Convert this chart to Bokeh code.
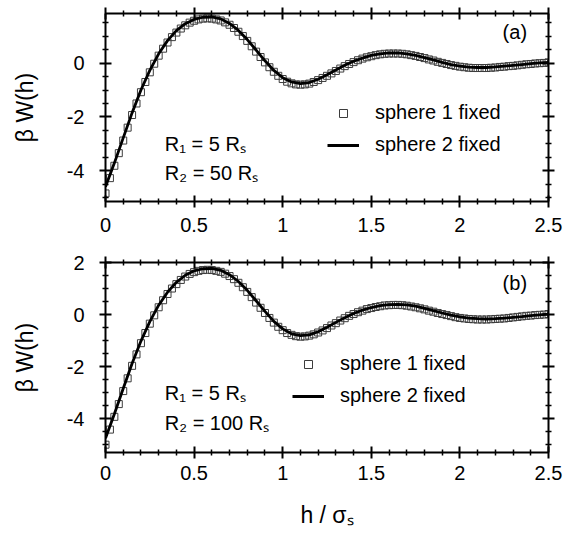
from bokeh.plotting import figure
from bokeh.layouts import column
from bokeh.models import LinearAxis, FixedTicker, Range1d, Label, Legend, LegendItem
from bokeh.embed import file_html
from bokeh.resources import INLINE

# ---------------- data ----------------
H_LINE = [0.0, 0.05, 0.1, 0.15, 0.2, 0.25, 0.3, 0.35, 0.4, 0.45,
          0.5, 0.55, 0.6, 0.65, 0.7, 0.75, 0.8, 0.85, 0.9, 0.95,
          1.0, 1.05, 1.1, 1.15, 1.2, 1.25, 1.3, 1.35, 1.4, 1.45,
          1.5, 1.55, 1.6, 1.65, 1.7, 1.75, 1.8, 1.85, 1.9, 1.95,
          2.0, 2.05, 2.1, 2.15, 2.2, 2.25, 2.3, 2.35, 2.4, 2.45, 2.5]

H_SQ = [0.0, 0.025, 0.05, 0.075, 0.1, 0.125, 0.15, 0.175, 0.2, 0.225,
        0.25, 0.275, 0.3, 0.325, 0.35, 0.375, 0.4, 0.425, 0.45, 0.475,
        0.5, 0.525, 0.55, 0.575, 0.6, 0.625, 0.65, 0.675, 0.7, 0.725,
        0.75, 0.775, 0.8, 0.825, 0.85, 0.875, 0.9, 0.925, 0.95, 0.975,
        1.0, 1.025, 1.05, 1.075, 1.1, 1.125, 1.15, 1.175, 1.2, 1.225,
        1.25, 1.275, 1.3, 1.325, 1.35, 1.375, 1.4, 1.425, 1.45, 1.475,
        1.5, 1.525, 1.55, 1.575, 1.6, 1.625, 1.65, 1.675, 1.7, 1.725,
        1.75, 1.775, 1.8, 1.825, 1.85, 1.875, 1.9, 1.925, 1.95, 1.975,
        2.0, 2.025, 2.05, 2.075, 2.1, 2.125, 2.15, 2.175, 2.2, 2.225,
        2.25, 2.275, 2.3, 2.325, 2.35, 2.375, 2.4, 2.425, 2.45, 2.475, 2.5]

# panel (a): R1 = 5 Rs, R2 = 50 Rs
LINE_A = [-4.60, -3.72, -2.78, -1.85, -1.00, -0.27, 0.35, 0.84, 1.21, 1.47,
          1.63, 1.71, 1.72, 1.65, 1.48, 1.22, 0.88, 0.49, 0.09, -0.27,
          -0.54, -0.70, -0.76, -0.72, -0.60, -0.43, -0.25, -0.08, 0.07, 0.19,
          0.29, 0.35, 0.38, 0.38, 0.35, 0.29, 0.21, 0.12, 0.03, -0.05,
          -0.11, -0.15, -0.16, -0.16, -0.14, -0.11, -0.08, -0.05, -0.02, 0.01, 0.03]

SQ_A = [-4.85, -4.28, -3.82, -3.35, -2.88, -2.40, -1.93, -1.50, -1.08, -0.70,
        -0.34, -0.02, 0.28, 0.54, 0.77, 0.97, 1.14, 1.29, 1.41, 1.51,
        1.58, 1.63, 1.66, 1.67, 1.66, 1.63, 1.59, 1.52, 1.43, 1.31,
        1.17, 1.01, 0.83, 0.63, 0.43, 0.23, 0.03, -0.15, -0.32, -0.47,
        -0.59, -0.69, -0.75, -0.79, -0.80, -0.79, -0.76, -0.70, -0.63, -0.55,
        -0.47, -0.38, -0.29, -0.20, -0.11, -0.03, 0.04, 0.11, 0.17, 0.22,
        0.26, 0.30, 0.33, 0.35, 0.36, 0.36, 0.36, 0.35, 0.33, 0.30,
        0.27, 0.23, 0.19, 0.14, 0.10, 0.05, 0.01, -0.03, -0.07, -0.10,
        -0.13, -0.15, -0.17, -0.18, -0.18, -0.18, -0.18, -0.17, -0.16, -0.14,
        -0.13, -0.11, -0.10, -0.08, -0.06, -0.04, -0.03, -0.01, 0.00, 0.01, 0.03]

# panel (b): R1 = 5 Rs, R2 = 100 Rs
LINE_B = [-4.75, -3.82, -2.84, -1.88, -1.02, -0.27, 0.36, 0.86, 1.24, 1.51,
          1.68, 1.76, 1.77, 1.70, 1.53, 1.27, 0.93, 0.53, 0.12, -0.26,
          -0.55, -0.74, -0.81, -0.78, -0.66, -0.49, -0.30, -0.12, 0.04, 0.17,
          0.27, 0.34, 0.38, 0.39, 0.37, 0.32, 0.24, 0.15, 0.06, -0.02,
          -0.09, -0.14, -0.16, -0.17, -0.16, -0.14, -0.11, -0.08, -0.04, -0.01, 0.02]

SQ_B = [-5.00, -4.42, -3.93, -3.44, -2.94, -2.45, -1.97, -1.53, -1.10, -0.71,
        -0.35, -0.03, 0.28, 0.55, 0.79, 1.00, 1.17, 1.33, 1.46, 1.56,
        1.63, 1.68, 1.71, 1.72, 1.71, 1.68, 1.64, 1.57, 1.48, 1.36,
        1.22, 1.05, 0.87, 0.67, 0.46, 0.26, 0.06, -0.13, -0.31, -0.47,
        -0.60, -0.71, -0.78, -0.83, -0.85, -0.84, -0.81, -0.76, -0.69, -0.61,
        -0.52, -0.42, -0.33, -0.23, -0.14, -0.05, 0.02, 0.09, 0.15, 0.21,
        0.25, 0.29, 0.32, 0.35, 0.36, 0.37, 0.37, 0.36, 0.34, 0.31,
        0.28, 0.24, 0.20, 0.15, 0.11, 0.06, 0.02, -0.02, -0.06, -0.10,
        -0.13, -0.15, -0.17, -0.18, -0.19, -0.19, -0.19, -0.18, -0.17, -0.16,
        -0.15, -0.13, -0.11, -0.09, -0.07, -0.05, -0.04, -0.02, -0.01, 0.00, 0.02]

X_TICKS = [0, 0.5, 1, 1.5, 2, 2.5]
X_TICK_LABELS = ["0", "0.5", "1", "1.5", "2", "2.5"]
X_MINOR = [0.1, 0.2, 0.3, 0.4, 0.6, 0.7, 0.8, 0.9, 1.1, 1.2, 1.3, 1.4,
           1.6, 1.7, 1.8, 1.9, 2.1, 2.2, 2.3, 2.4]
Y_TICKS = [-4, -2, 0, 2]
Y_TICK_LABELS = ["-4", "-2", "0", "2"]
Y_MINOR = [-5.0, -4.5, -3.5, -3.0, -2.5, -1.5, -1.0, -0.5, 0.5, 1.0, 1.5]

LEGEND_LABELS = ["sphere 1 fixed", "sphere 2 fixed"]
Y_LABEL = "β W(h)"
X_LABEL = "h / σₛ"

FONT = "Liberation Sans"


def style_axis(ax, show_labels, label_standoff):
    ax.axis_line_width = 2
    ax.axis_line_color = "black"
    ax.major_tick_line_width = 2
    ax.minor_tick_line_width = 1.5
    ax.major_tick_in = 6
    ax.major_tick_out = 6
    ax.minor_tick_in = 3
    ax.minor_tick_out = 3
    ax.major_label_text_font = FONT
    ax.major_label_text_color = "black"
    ax.axis_label_text_font = FONT
    ax.axis_label_text_font_style = "normal"
    ax.axis_label_text_font_size = "23px"
    ax.axis_label_text_color = "black"
    if show_labels:
        ax.major_label_text_font_size = "20px"
        ax.major_label_standoff = label_standoff
    else:
        ax.major_label_text_font_size = "0px"
        ax.major_label_standoff = 0
        ax.major_label_text_alpha = 0


def make_panel(line_y, sq_y, y_lo, y_hi, height, b_top, b_bottom, x_standoff,
               tag, tag_xy, r_texts, r_xy, legend_x, xlabel):
    p = figure(width=571, height=height, output_backend="svg", toolbar_location=None,
               x_range=Range1d(0, 2.5), y_range=Range1d(y_lo, y_hi),
               min_border_left=105, min_border_right=23,
               min_border_top=b_top, min_border_bottom=b_bottom)
    p.xgrid.visible = False
    p.ygrid.visible = False
    p.outline_line_color = None
    p.background_fill_color = "white"
    p.border_fill_color = "white"

    xt = FixedTicker(ticks=X_TICKS, minor_ticks=X_MINOR)
    yt = FixedTicker(ticks=Y_TICKS, minor_ticks=Y_MINOR)
    xo = dict(zip(X_TICKS, X_TICK_LABELS))
    yo = dict(zip(Y_TICKS, Y_TICK_LABELS))

    bx = p.xaxis[0]
    bx.ticker = xt
    bx.major_label_overrides = xo
    style_axis(bx, True, x_standoff)
    if xlabel:
        bx.axis_label = xlabel
        bx.axis_label_standoff = 19

    ly = p.yaxis[0]
    ly.ticker = yt
    ly.major_label_overrides = yo
    style_axis(ly, True, 15)
    ly.axis_label = Y_LABEL
    ly.axis_label_standoff = 26

    top = LinearAxis(ticker=xt)
    style_axis(top, False, 0)
    p.add_layout(top, "above")
    right = LinearAxis(ticker=yt)
    style_axis(right, False, 0)
    p.add_layout(right, "right")

    sq = p.scatter(H_SQ, sq_y, marker="square", size=7, fill_alpha=0,
                   line_color="#3c3c3c", line_width=1)
    ln = p.line(H_LINE, line_y, line_color="black", line_width=2.8)

    legend = Legend(items=[LegendItem(label=LEGEND_LABELS[0], renderers=[sq]),
                           LegendItem(label=LEGEND_LABELS[1], renderers=[ln])],
                    location=(legend_x, 45), orientation="vertical",
                    glyph_width=32, glyph_height=20, label_height=20,
                    label_standoff=16, spacing=9, padding=0, margin=0,
                    border_line_color=None, background_fill_alpha=0,
                    label_text_font=FONT, label_text_font_size="20px",
                    label_text_color="black")
    p.add_layout(legend)

    p.add_layout(Label(x=tag_xy[0], y=tag_xy[1], text=tag, text_font=FONT,
                       text_font_size="20px", text_align="center",
                       text_baseline="middle", text_color="black"))
    for t, (xx, yy) in zip(r_texts, r_xy):
        p.add_layout(Label(x=xx, y=yy, text=t, text_font=FONT,
                           text_font_size="20px", text_align="left",
                           text_baseline="middle", text_color="black"))
    return p


pa = make_panel(LINE_A, SQ_A, -5.15, 1.85, 250, 13, 49, 10, "(a)", (2.31, 1.15),
                ["R₁ = 5 Rₛ", "R₂ = 50 Rₛ"], [(0.335, -3.0), (0.335, -4.08)],
                222, None)
pb = make_panel(LINE_B, SQ_B, -5.3, 2.0, 285, 12, 83, 7, "(b)", (2.31, 1.2),
                ["R₁ = 5 Rₛ", "R₂ = 100 Rₛ"], [(0.335, -3.02), (0.335, -4.18)],
                187, X_LABEL)

layout = column(pa, pb, spacing=0)
open("out.html", "w").write(file_html(layout, INLINE))
